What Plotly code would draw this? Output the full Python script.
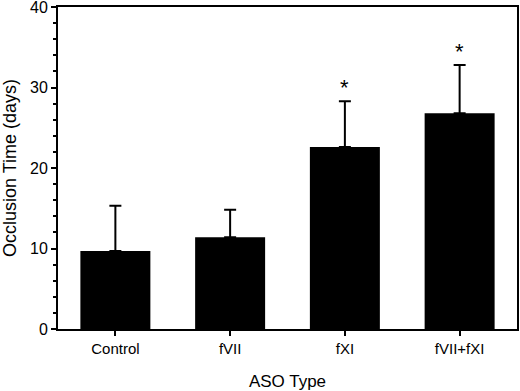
import plotly.graph_objects as go

categories = ["Control", "fVII", "fXI", "fVII+fXI"]
means = [9.7, 11.4, 22.6, 26.8]
errors = [5.6, 3.4, 5.7, 6.0]
significant = ["", "", "*", "*"]
y_ticks = [0, 10, 20, 30, 40]

font = "Liberation Sans, Arial, sans-serif"

fig = go.Figure()
fig.add_trace(go.Bar(
    x=categories, y=means,
    marker=dict(color="black", line=dict(width=0)),
    error_y=dict(type="data", array=errors, arrayminus=[0]*len(errors), symmetric=False,
                 color="black", thickness=2, width=6),
    width=0.61,
))

for c, m, e, s in zip(categories, means, errors, significant):
    if s:
        fig.add_annotation(x=c, y=m + e, text=s, showarrow=False, yanchor="bottom",
                           yshift=-1, font=dict(family=font, size=22, color="black"))

# top frame line (paper coordinates, not clipped)
fig.add_shape(type="line", xref="paper", yref="paper", x0=0, x1=1, y0=1.003, y1=1.003,
              line=dict(color="black", width=2), layer="above")

fig.update_layout(
    width=520, height=391,
    margin=dict(l=58, r=3, t=7, b=62, autoexpand=False),
    plot_bgcolor="white", paper_bgcolor="white",
    showlegend=False,
    font=dict(family=font, color="black"),
)
fig.update_xaxes(
    range=[-0.5, 3.5], showline=True, linecolor="black", linewidth=2, mirror=True,
    ticks="outside", ticklen=5, tickwidth=2, tickcolor="black",
    tickfont=dict(size=15, family=font), automargin=False,
    title=dict(text="ASO Type", font=dict(size=17, family=font), standoff=19),
    showgrid=False,
)
fig.update_yaxes(
    range=[0, 40], tickvals=y_ticks, showline=True, linecolor="black", linewidth=2, mirror=True,
    ticks="outside", ticklen=5, tickwidth=2, tickcolor="black",
    tickfont=dict(size=16, family=font), automargin=False, ticklabeloverflow="allow",
    minor=dict(dtick=2, ticks="outside", ticklen=3, tickwidth=1.5, tickcolor="black", showgrid=False),
    title=dict(text="Occlusion Time (days)", font=dict(size=18, family=font), standoff=10),
    showgrid=False, zeroline=False,
)

fig.write_html("out.html", config={"displayModeBar": False},
               post_script="document.body.style.margin='0';")
